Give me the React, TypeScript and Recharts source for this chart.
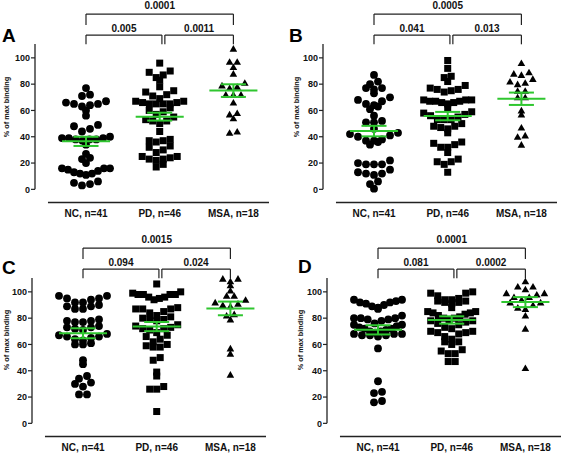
import { ScatterChart, Scatter, XAxis, YAxis, ReferenceLine } from "recharts";

const GROUPS = ["NC, n=41", "PD, n=46", "MSA, n=18"];
const Y_TICKS = [0, 20, 40, 60, 80, 100];

// A
const ncA = [77, 72, 71, 67, 65, 64, 63, 65, 66, 60, 56, 49, 46, 44, 48, 39, 38, 38, 38, 39, 39, 40, 37, 34, 24, 27, 20, 23, 16, 15, 13, 12, 11, 12, 14, 16, 16, 5, 3, 4, 6];
const pdA = [96, 90, 89, 87, 85, 83, 78, 75, 74, 72, 71, 69, 67, 66, 65, 65, 65, 65, 66, 67, 62, 60, 59, 57, 55, 53, 52, 52, 50, 44, 38, 37, 37, 36, 33, 32, 30, 28, 25, 23, 22, 23, 25, 24, 17, 19];
const msaA = [107, 97, 97, 93, 88, 77, 79, 81, 78, 72, 72, 72, 66, 57, 54, 58, 43, 44];
const meanA = [36.5, 55.3, 75.1];
const semA = [3.5, 3.0, 4.8];
const pA = ["0.005", "0.0011", "0.0001"];

// B
const ncB = [87, 82, 80, 77, 77, 76, 73, 70, 67, 65, 63, 64, 68, 61, 56, 52, 51, 51, 46, 43, 41, 40, 38, 37, 37, 36, 34, 42, 22, 19, 19, 19, 20, 13, 12, 11, 12, 15, 6, 4, 0.5];
const pdB = [98, 92, 86, 85, 82, 77, 76, 75, 74, 76, 79, 68, 67, 67, 66, 65, 66, 67, 68, 68, 62, 59, 58, 56, 57, 53, 53, 53, 48, 48, 47, 46, 55, 50, 43, 36, 35, 32, 32, 34, 28, 21, 23, 21, 19, 13];
const msaB = [96, 89, 88, 87, 84, 82, 81, 80, 75, 75, 70, 70, 57, 60, 47, 40, 41, 34];
const meanB = [44.3, 55.7, 68.9];
const semB = [4.0, 3.2, 4.7];
const pB = ["0.041", "0.013", "0.0005"];

// C
const ncC = [97, 95, 94, 95, 97, 92, 92, 89, 87, 87, 89, 90, 79, 78, 77, 77, 78, 74, 72, 73, 71, 73, 67, 65, 66, 68, 66, 64, 61, 60, 60, 63, 45, 48, 36, 34, 31, 30, 28, 22, 22];
const pdC = [106, 98, 98, 100, 99, 98, 96, 95, 94, 96, 98, 87, 85, 88, 84, 87, 87, 78, 80, 79, 81, 79, 82, 72, 72, 71, 74, 75, 73, 62, 58, 58, 59, 60, 66, 67, 69, 50, 48, 39, 36, 26, 26, 28, 9, 64];
const msaC = [110, 108, 110, 105, 101, 97, 94, 97, 91, 92, 90, 89, 83, 82, 79, 57, 53, 37];
const meanC = [68.5, 73.6, 87.4];
const semC = [3.8, 3.5, 5.2];
const pC = ["0.094", "0.024", "0.0015"];

// D
const ncD = [93, 91, 89, 94, 87, 92, 94, 90, 88, 92, 80, 79, 78, 79, 80, 82, 76, 75, 75, 74, 80, 70, 68, 67, 67, 67, 68, 71, 72, 72, 68, 69, 70, 57, 32, 24, 23, 17, 16, 73, 66];
const pdD = [99, 99, 100, 97, 94, 93, 92, 91, 92, 93, 94, 95, 85, 84, 85, 84, 83, 80, 81, 78, 79, 80, 77, 75, 76, 78, 70, 69, 68, 70, 69, 72, 64, 62, 60, 62, 66, 56, 53, 55, 53, 47, 47, 82, 73, 88];
const msaD = [108, 104, 104, 102, 99, 98, 99, 96, 96, 92, 92, 90, 88, 87, 82, 72, 42, 94];
const meanD = [71.1, 78.6, 92.2];
const semD = [3.5, 2.8, 3.8];
const pD = ["0.081", "0.0002", "0.0001"];

// layout
const FONT = '"Liberation Sans", Arial, sans-serif';
const AXIS = "#222";
const GREEN = "#2fc62f";
const CHART_W = 279;
const CHART_H = 225;
const Y_AXIS_W = 40;
const X_AXIS_H = 22.5;
const PLOT_W = CHART_W - Y_AXIS_W - 5;
const X_MIN = -0.692;
const X_MAX = 2.483;
const Y_MIN = -10;
const Y_MAX = 144;
const PX_X = PLOT_W / (X_MAX - X_MIN);
const BRACKET_X = [0, 1.05, 2];

const panels = [
  { letter: "A", nc: ncA, pd: pdA, msa: msaA, mean: meanA, sem: semA, p: pA, left: -5, top: 0, lx: 2, ly: 26, yl: [6, 107] },
  { letter: "B", nc: ncB, pd: pdB, msa: msaB, mean: meanB, sem: semB, p: pB, left: 283, top: 0, lx: 289, ly: 26, yl: [296, 107] },
  { letter: "C", nc: ncC, pd: pdC, msa: msaC, mean: meanC, sem: semC, p: pC, left: -8, top: 234, lx: 2, ly: 258, yl: [6, 340] },
  { letter: "D", nc: ncD, pd: pdD, msa: msaD, mean: meanD, sem: semD, p: pD, left: 287, top: 234, lx: 298, ly: 257, yl: [300, 340] },
];

// Prism-like rows: close values share a row, spread side by side, lowest in the middle
function rows(values: number[], step: number, maxW: number) {
  const order = values.map((_, i) => i).sort((a, b) => values[b] - values[a]);
  const out: number[] = new Array(values.length).fill(0);
  const groups: number[][] = [];
  let cur: number[] = [];
  for (const i of order) {
    if (cur.length) {
      const top = values[cur[0]];
      const last = values[cur[cur.length - 1]];
      if (last - values[i] > 2.5 || top - values[i] > 6) {
        groups.push(cur);
        cur = [];
      }
    }
    cur.push(i);
  }
  if (cur.length) groups.push(cur);
  for (const grp of groups) {
    const n = grp.length;
    const sp = n > 1 ? Math.min(step, maxW / (n - 1)) : 0;
    const slots = Array.from({ length: n }, (_, k) => (k - (n - 1) / 2) * sp).sort(
      (a, b) => Math.abs(a) - Math.abs(b) || a - b
    );
    const asc = [...grp].sort((a, b) => values[a] - values[b]);
    asc.forEach((idx, k) => (out[idx] = slots[k]));
  }
  return out;
}

const circle = (p: any) => <circle cx={p.cx} cy={p.cy} r={3.9} fill="#000" />;
const square = (p: any) => <rect x={p.cx - 3.5} y={p.cy - 3.5} width={7} height={7} fill="#000" />;
const triangle = (p: any) => (
  <polygon points={`${p.cx - 3.8},${p.cy + 3} ${p.cx + 3.8},${p.cy + 3} ${p.cx},${p.cy - 3.6}`} fill="#000" />
);

const labelStyle = { fill: "#111", fontSize: 10, fontWeight: "bold", fontFamily: FONT };

function Bracket({ a, b, y, legTo, text, off }: { a: number; b: number; y: number; legTo: number; text: string; off: number }) {
  const line = { stroke: AXIS, strokeWidth: 1.2, ifOverflow: "visible" as const };
  return (
    <>
      <ReferenceLine {...line} segment={[{ x: a, y: legTo }, { x: a, y }]} />
      <ReferenceLine {...line} segment={[{ x: b, y: legTo }, { x: b, y }]} />
      <ReferenceLine
        {...line}
        segment={[{ x: a, y }, { x: b, y }]}
        label={{ value: text, position: "top", offset: off, ...labelStyle }}
      />
    </>
  );
}

function Panel({ cfg }: { cfg: (typeof panels)[number] }) {
  const groups = [cfg.nc, cfg.pd, cfg.msa];
  const shapes = [circle, square, triangle];
  const steps = [8, 7, 7.6];
  const green = { stroke: GREEN, strokeWidth: 2, ifOverflow: "visible" as const, zIndex: 1500 };
  const axisLine = { stroke: AXIS, strokeWidth: 1.3, ifOverflow: "visible" as const };
  return (
    <>
      <div style={{ position: "absolute", left: cfg.left, top: cfg.top }}>
        <ScatterChart width={CHART_W} height={CHART_H} margin={{ top: 0, right: 5, bottom: 0, left: 0 }}>
          <XAxis
            type="number"
            dataKey="x"
            domain={[X_MIN, X_MAX]}
            allowDataOverflow
            ticks={[0, 1, 2]}
            interval={0}
            tickFormatter={(v) => GROUPS[v]}
            axisLine={false}
            tickLine={false}
            tickSize={0}
            tickMargin={7.5}
            height={X_AXIS_H}
            tick={labelStyle}
          />
          <YAxis
            type="number"
            dataKey="y"
            domain={[Y_MIN, Y_MAX]}
            allowDataOverflow
            ticks={Y_TICKS}
            interval={0}
            axisLine={false}
            tickLine={{ stroke: AXIS, strokeWidth: 1.2 }}
            tickSize={4}
            tickMargin={1}
            width={Y_AXIS_W}
            tick={{ ...labelStyle, fontSize: 9 }}
          />
          {groups.map((vals, g) => {
            const offs = rows(vals, steps[g], 48);
            const data = vals.map((v, i) => ({ x: g + offs[i] / PX_X, y: v }));
            return <Scatter key={g} data={data} shape={shapes[g]} isAnimationActive={false} />;
          })}
          <ReferenceLine {...axisLine} segment={[{ x: X_MIN, y: 0 }, { x: X_MIN, y: 110.5 }]} />
          <ReferenceLine {...axisLine} segment={[{ x: -0.516, y: Y_MIN }, { x: X_MAX, y: Y_MIN }]} />
          {cfg.mean.map((m, g) => (
            <g key={"m" + g}>
              <ReferenceLine {...green} segment={[{ x: g - 0.326, y: m }, { x: g + 0.326, y: m }]} />
              <ReferenceLine {...green} segment={[{ x: g - 0.17, y: m + cfg.sem[g] }, { x: g + 0.17, y: m + cfg.sem[g] }]} />
              <ReferenceLine {...green} segment={[{ x: g - 0.17, y: m - cfg.sem[g] }, { x: g + 0.17, y: m - cfg.sem[g] }]} />
              <ReferenceLine {...green} segment={[{ x: g, y: m - cfg.sem[g] }, { x: g, y: m + cfg.sem[g] }]} />
            </g>
          ))}
          <Bracket a={BRACKET_X[0]} b={BRACKET_X[1] - 0.02} y={117.3} legTo={110.3} text={cfg.p[0]} off={3} />
          <Bracket a={BRACKET_X[1] + 0.02} b={BRACKET_X[2]} y={117.3} legTo={110.3} text={cfg.p[1]} off={3} />
          <Bracket a={BRACKET_X[0]} b={BRACKET_X[2]} y={133.3} legTo={125} text={cfg.p[2]} off={5.5} />
        </ScatterChart>
      </div>
      <div
        style={{
          position: "absolute",
          left: cfg.lx,
          top: cfg.ly,
          fontFamily: FONT,
          fontWeight: "bold",
          fontSize: 19,
          lineHeight: "19px",
          color: "#000",
        }}
      >
        {cfg.letter}
      </div>
      <div
        style={{
          position: "absolute",
          left: cfg.yl[0],
          top: cfg.yl[1],
          transform: "translate(-50%, -50%) rotate(-90deg)",
          whiteSpace: "nowrap",
          fontFamily: FONT,
          fontWeight: "bold",
          fontSize: 7.3,
          color: "#111",
        }}
      >
        % of max binding
      </div>
    </>
  );
}

export default function App() {
  return (
    <div style={{ position: "absolute", left: 0, top: 0, width: 567, height: 455, background: "#fff", overflow: "hidden" }}>
      {panels.map((p) => (
        <Panel key={p.letter} cfg={p} />
      ))}
    </div>
  );
}
